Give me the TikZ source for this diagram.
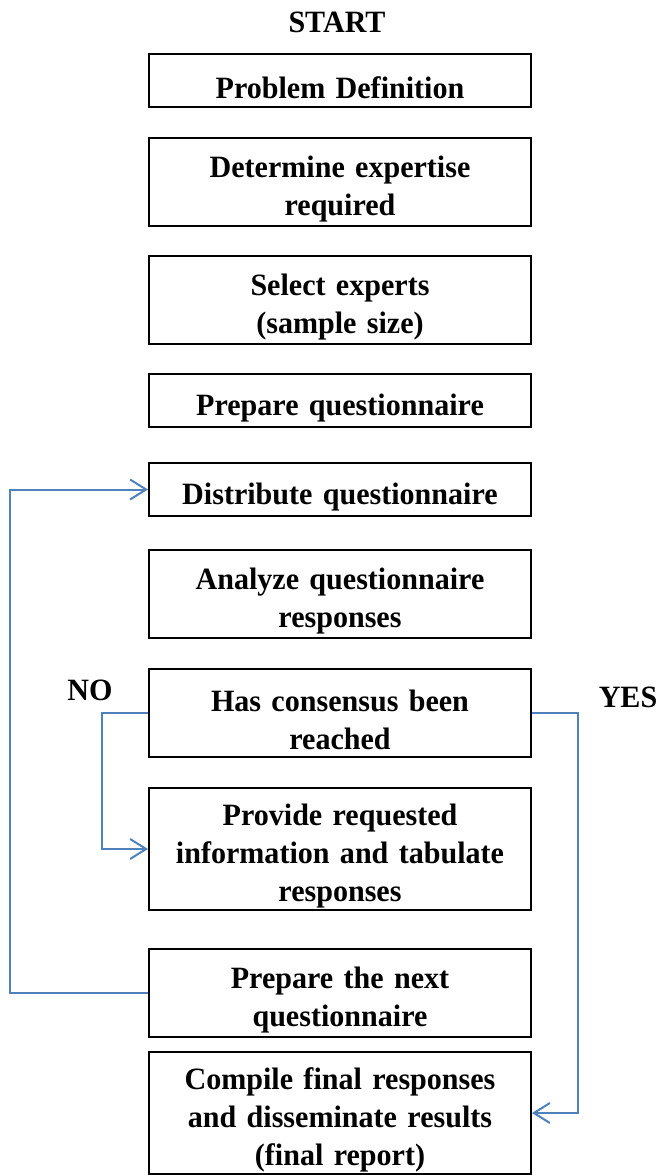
\documentclass[tikz,border=0pt]{standalone}
\usepackage{fontspec}
\setmainfont[FakeStretch=0.97, WordSpace=0.7]{Liberation Serif}
\usepackage{xcolor}
\definecolor{loopblue}{HTML}{4F81BD}
\usetikzlibrary{arrows.meta, positioning}
\tikzset{
  stagebox/.style={rectangle, draw=black, line width=2pt, fill=white, text width=370pt, inner xsep=6pt,
                   inner ysep=0pt, align=center, minimum height=53pt, font=\fontsize{31}{38}\selectfont\bfseries,
                   execute at begin node={\rule{0pt}{36pt}}},
  twoline/.style={minimum height=88pt},
  threeline/.style={minimum height=122pt},
  flowarr/.style={-{Straight Barb[length=16pt, width=20pt, line width=2pt]}, line width=2pt, color=loopblue},
  flowlbl/.style={font=\fontsize{31}{38}\selectfont\bfseries, inner sep=0pt},
}
\begin{document}
\begin{tikzpicture}[x=1pt, y=1pt, node distance=30pt]
  \useasboundingbox (0,0) rectangle (659,-1175);
  \node[flowlbl] (start) at (337,-22) {START};
  \node[stagebox] (prob) at (340,-80.5) {Problem Definition};
  \node[stagebox, twoline, below=29pt of prob] (expert) {Determine expertise\\required};
  \node[stagebox, twoline, below=28pt of expert] (select) {Select experts\\(sample size)};
  \node[stagebox, below=28pt of select] (prepq) {Prepare questionnaire};
  \node[stagebox, below=34pt of prepq] (dist) {Distribute questionnaire};
  \node[stagebox, twoline, below=32pt of dist] (analyze) {Analyze questionnaire\\responses};
  \node[stagebox, twoline, below=29pt of analyze] (consensus) {Has consensus been\\reached};
  \node[stagebox, threeline, below=29pt of consensus] (provide) {Provide requested\\information and tabulate\\responses};
  \node[stagebox, twoline, below=37pt of provide] (prepnext) {Prepare the next\\questionnaire};
  \node[stagebox, threeline, below=13pt of prepnext] (compile) {Compile final responses\\and disseminate results\\(final report)};
  \node[flowlbl] (nolbl) at (90,-690) {NO};
  \node[flowlbl] (yeslbl) at (628,-697) {YES};
  % loops back and the exit
  \draw[flowarr] (prepnext.west) -- ++(-138,0) |- (dist.west);
  \draw[flowarr] (consensus.west) -- ++(-46,0) |- (provide.west);
  \draw[flowarr] (consensus.east) -- ++(46,0) |- (compile.east);
\end{tikzpicture}
\end{document}
